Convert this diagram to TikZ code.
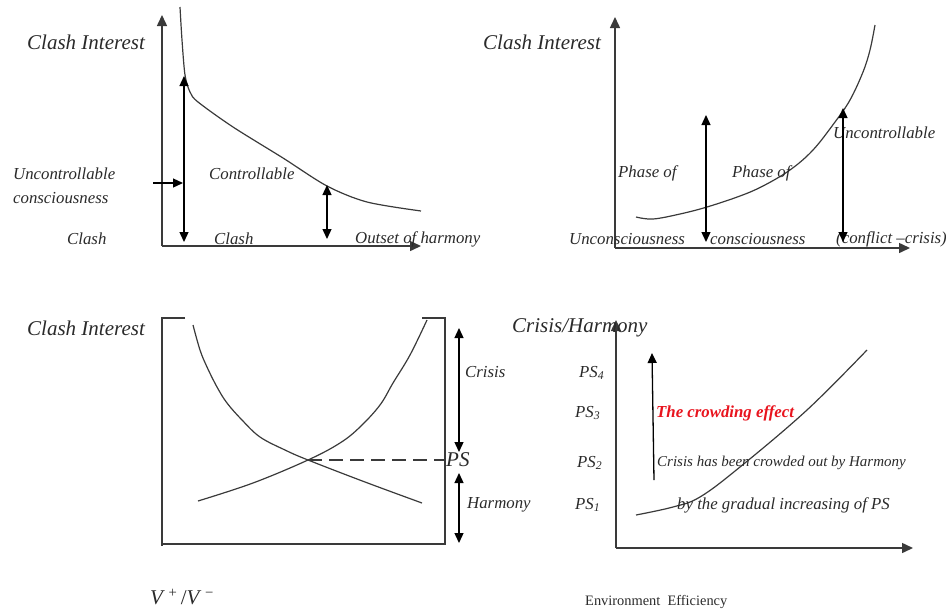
\documentclass[tikz,border=0pt]{standalone}
\usepackage{fontspec}
\setmainfont{Liberation Serif}
\usetikzlibrary{arrows.meta,positioning}
\definecolor{inktext}{HTML}{2A2A2A}
\definecolor{inkline}{HTML}{3A3A3A}
\definecolor{crowdred}{HTML}{E8141E}
\tikzset{
  ttl/.style={anchor=west, inner sep=0pt, font=\fontsize{21}{24}\selectfont\itshape, text=inktext},
  lbl/.style={anchor=west, inner sep=0pt, font=\fontsize{16.8}{20}\selectfont\itshape, text=inktext},
  sml/.style={anchor=west, inner sep=0pt, font=\fontsize{15}{18}\selectfont\itshape, text=inktext},
  axis/.style={draw=inkline, line width=1.5pt, -{Triangle[length=11pt,width=10pt]}},
  curve/.style={draw=inkline, line width=1.2pt},
  twoway/.style={draw=black, line width=1.3pt, {Triangle[length=10pt,width=9pt]}-{Triangle[length=10pt,width=9pt]}},
  oneway/.style={draw=black, line width=1.3pt, -{Triangle[length=10pt,width=9pt]}},
}

\begin{document}
\begin{tikzpicture}[x=1pt,y=-1pt]
\useasboundingbox (0,0) rectangle (946,614);
% Panel 1: falling clash interest
\coordinate (o1) at (162,246);
\coordinate (y1) at (162,15);
\coordinate (x1) at (421,246);
\draw[axis] (o1) -- (y1);
\draw[axis] (o1) -- (x1);
\draw[curve] plot[smooth,tension=0.5] coordinates{(180,7) (182,40) (185,75) (190,92) (198,102) (233,127) (283,158) (327,186) (367,202) (421,211)};
\node[ttl] (ttlA) at (27,42) {Clash Interest};
\node[lbl] (uncA) at (13,174) {Uncontrollable};
\node[lbl] (conA) at (13,198) {consciousness};
\node[lbl] (clashA) at (67,239) {Clash};
\node[lbl] (ctrlA) at (209,174) {Controllable};
\node[lbl] (clashB) at (214,239) {Clash};
\node[lbl] (outset) at (355,239) {Outset of harmony};
\coordinate (pA1) at (184,76);
\coordinate (pA2) at (184,242);
\coordinate (pB1) at (153,183);
\coordinate (pB2) at (183,183);
\coordinate (pC1) at (327,185);
\coordinate (pC2) at (327,239);
\draw[twoway] (pA1) -- (pA2);
\draw[oneway] (pB1) -- (pB2);
\draw[twoway] (pC1) -- (pC2);

% Panel 2: rising clash interest
\coordinate (o2) at (615,248);
\coordinate (y2) at (615,17);
\coordinate (x2) at (910,248);
\draw[axis] (o2) -- (y2);
\draw[axis] (o2) -- (x2);
\draw[curve] plot[smooth,tension=0.6] coordinates{(636,217) (653,219) (680,214) (707,207) (740,196) (763,186) (790,170) (813,150) (835,122) (850,100) (863,72) (870,50) (875,25)};
\node[ttl] (ttlB) at (483,42) {Clash Interest};
\node[lbl] (phaseA) at (618,173) {Phase of};
\node[lbl] (phaseB) at (732,173) {Phase of};
\node[lbl] (uncB) at (833,133) {Uncontrollable};
\node[lbl] (uncons) at (569,239) {Unconsciousness};
\node[lbl] (conB) at (710,239) {consciousness};
\node[lbl] (confl) at (836,239) {(conflict –crisis)};
\coordinate (pD1) at (706,115);
\coordinate (pD2) at (706,242);
\coordinate (pE1) at (843,108);
\coordinate (pE2) at (843,242);
\draw[twoway] (pD1) -- (pD2);
\draw[twoway] (pE1) -- (pE2);

% Panel 3: crossing curves
\node[ttl] (ttlC) at (27,328) {Clash Interest};
\draw[draw=inkline, line width=1.3pt] (185,318) -- (162,318) -- (162,546);
\draw[draw=inkline, line width=1.3pt] (162,544) -- (445,544) -- (445,318) -- (422,318);
\draw[curve] plot[smooth,tension=0.6] coordinates{(193,325) (200,350) (207,367) (217,387) (227,403) (242,420) (260,437) (285,450) (308,460) (365,482) (422,503)};
\draw[curve] plot[smooth,tension=0.6] coordinates{(198,501) (253,483) (308,460) (340,443) (360,427) (380,405) (393,383) (410,355) (427,320)};
\coordinate (ps0) at (308,460);
\coordinate (psR) at (445,460);
\draw[draw=inkline, line width=1.2pt, dash pattern=on 14pt off 7pt] (ps0) -- (psR);
\node[ttl] (psC) at (446,460) {PS};
\node[lbl] (crisC) at (465,372) {Crisis};
\node[lbl] (harmC) at (467,505) {Harmony};
\coordinate (pF1) at (459,328);
\coordinate (pF2) at (459,452);
\coordinate (pG1) at (459,473);
\coordinate (pG2) at (459,543);
\draw[twoway] (pF1) -- (pF2);
\draw[twoway] (pG1) -- (pG2);
\node[anchor=west, inner sep=0pt, font=\fontsize{21}{26}\selectfont, text=inktext] (ratio) at (150,597) {\textit{V}\,\textsuperscript{+}\,/\textit{V}\,\textsuperscript{−}};

% Panel 4: crowding effect
\coordinate (o4) at (616,548);
\coordinate (y4) at (616,320);
\coordinate (x4) at (913,548);
\draw[axis] (o4) -- (y4);
\draw[axis] (o4) -- (x4);
\draw[curve] plot[smooth,tension=0.6] coordinates{(636,515) (673,507) (700,497) (740,467) (807,410) (867,350)};
\node[ttl] (ttlD) at (512,328) {Crisis/Harmony};
\node[lbl] (psFour) at (579,373) {PS\textsubscript{4}};
\node[lbl] (psThree) at (575,413) {PS\textsubscript{3}};
\node[lbl] (psTwo) at (577,463) {PS\textsubscript{2}};
\node[lbl] (psOne) at (575,505) {PS\textsubscript{1}};
\node[lbl, text=crowdred, font=\fontsize{16.8}{20}\selectfont\bfseries\itshape] (crowd) at (656,413) {The crowding effect};
\node[sml] (crowdout) at (657,463) {Crisis has been crowded out by Harmony};
\node[lbl] (gradual) at (677,505) {by the gradual increasing of PS};
\node[anchor=west, inner sep=0pt, font=\fontsize{14.4}{17}\selectfont, text=inktext] (envEff) at (585,602) {Environment\ \ Efficiency};
\coordinate (pH1) at (654,480);
\coordinate (pH2) at (652,353);
\draw[oneway] (pH1) -- (pH2);
\end{tikzpicture}
\end{document}
